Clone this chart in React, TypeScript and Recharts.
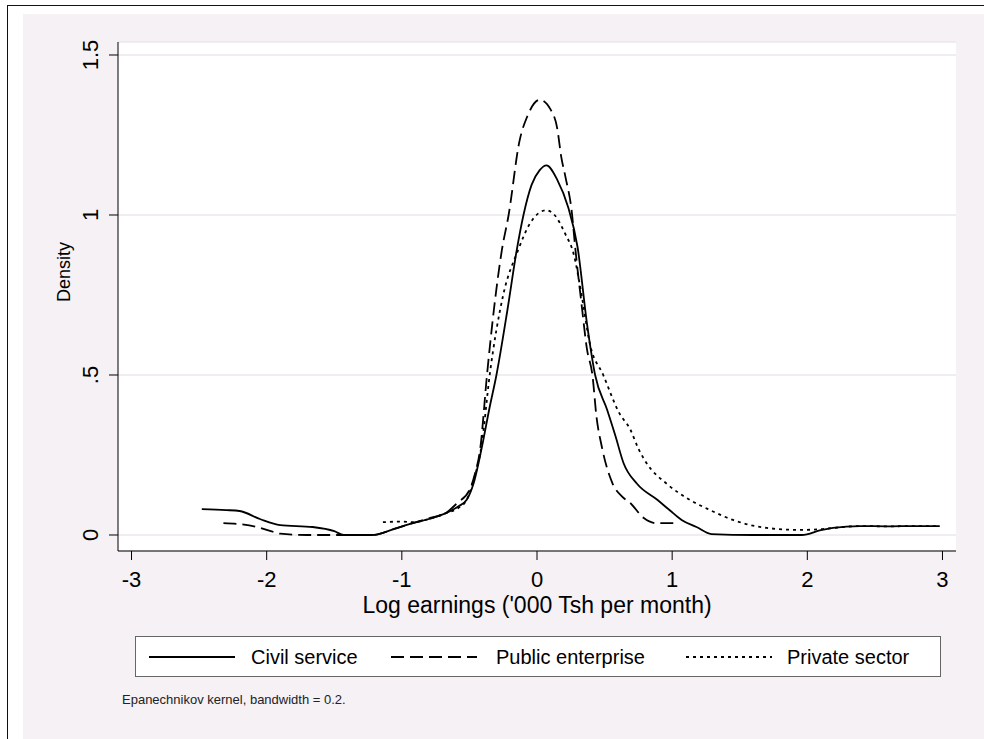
import React from 'react'
import { LineChart, Line, XAxis, YAxis, CartesianGrid, Legend, Label } from 'recharts'

// kernel density estimates
const civilX = [-2.48, -2.3, -2.2, -2.05, -1.9, -1.66, -1.5, -1.43, -1.22, -1.05, -0.92, -0.8, -0.67, -0.58, -0.52, -0.47, -0.41, -0.35, -0.3, -0.22, -0.15, -0.1, -0.04, 0.02, 0.07, 0.15, 0.23, 0.3, 0.37, 0.43, 0.52, 0.58, 0.64, 0.74, 0.89, 0.98, 1.07, 1.18, 1.29, 1.6, 1.96, 2.1, 2.19, 2.39, 2.6, 2.8, 2.98]
const civilY = [0.081, 0.078, 0.075, 0.05, 0.031, 0.025, 0.012, 0, 0, 0.02, 0.037, 0.05, 0.069, 0.09, 0.11, 0.16, 0.27, 0.4, 0.5, 0.7, 0.89, 1.0, 1.094, 1.14, 1.155, 1.11, 1.025, 0.9, 0.66, 0.5, 0.39, 0.31, 0.225, 0.16, 0.11, 0.078, 0.047, 0.025, 0.003, 0, 0, 0.015, 0.022, 0.028, 0.027, 0.028, 0.028]

const publicX = [-2.32, -2.2, -2.07, -1.97, -1.9, -1.7, -1.43, -1.22, -1.05, -0.92, -0.8, -0.67, -0.59, -0.5, -0.46, -0.42, -0.37, -0.32, -0.26, -0.21, -0.13, -0.07, 0.02, 0.1, 0.15, 0.18, 0.21, 0.26, 0.28, 0.33, 0.37, 0.41, 0.44, 0.48, 0.56, 0.63, 0.69, 0.79, 0.88, 1.03]
const publicY = [0.037, 0.034, 0.025, 0.012, 0.004, 0, 0, 0, 0.02, 0.037, 0.052, 0.07, 0.1, 0.14, 0.19, 0.27, 0.5, 0.7, 0.89, 1.0, 1.23, 1.31, 1.36, 1.33, 1.27, 1.18, 1.12, 1.0, 0.91, 0.72, 0.58, 0.5, 0.37, 0.275, 0.16, 0.12, 0.1, 0.053, 0.037, 0.037]

const privateX = [-1.14, -1.0, -0.92, -0.8, -0.67, -0.58, -0.52, -0.47, -0.41, -0.35, -0.25, -0.14, -0.05, 0.01, 0.07, 0.13, 0.21, 0.27, 0.33, 0.39, 0.49, 0.61, 0.69, 0.75, 0.81, 0.96, 1.13, 1.28, 1.45, 1.7, 1.95, 2.1, 2.19, 2.39, 2.6, 2.8, 2.98]
const privateY = [0.04, 0.042, 0.04, 0.05, 0.069, 0.085, 0.11, 0.17, 0.28, 0.5, 0.75, 0.89, 0.975, 1.005, 1.015, 1.0, 0.94, 0.88, 0.75, 0.6, 0.5, 0.38, 0.33, 0.27, 0.225, 0.16, 0.11, 0.078, 0.047, 0.022, 0.016, 0.018, 0.022, 0.028, 0.027, 0.028, 0.028]

const seriesNames = ['Civil service', 'Public enterprise', 'Private sector']
const xTicks = [-3, -2, -1, 0, 1, 2, 3]
const yTicks = [0, 0.5, 1, 1.5]
const yTickLabels = ['0', '.5', '1', '1.5']

const FONT = '"Liberation Sans", Arial, sans-serif'
const dashes = [undefined, '13 6', '3 4']

const toPoints = (xs: number[], ys: number[]) => xs.map((x, i) => ({ x, y: ys[i] }))
const series = [toPoints(civilX, civilY), toPoints(publicX, publicY), toPoints(privateX, privateY)]

const YTick = (props: any) => {
  const { y, payload } = props
  const bx = 98
  const idx = yTicks.indexOf(payload.value)
  return (
    <text x={bx} y={y} transform={`rotate(-90 ${bx} ${y})`} textAnchor="middle" fontSize={22} fontFamily={FONT} fill="#000">
      {yTickLabels[idx]}
    </text>
  )
}

const LegendBox = () => {
  const lineX = [13, 255, 550]
  const textX = [115, 360, 651]
  return (
    <div style={{ position: 'relative', width: 804, height: 39, background: '#fff', border: '1px solid #666', fontFamily: FONT }}>
      <svg width={804} height={39} style={{ position: 'absolute', left: 0, top: 0 }}>
        {seriesNames.map((name, i) => (
          <g key={name}>
            <line x1={lineX[i]} x2={lineX[i] + 86} y1={20} y2={20} stroke="#000" strokeWidth={1.8} strokeDasharray={dashes[i]} />
            <text x={textX[i]} y={27} fontSize={20} fill="#000" fontFamily={FONT}>{name}</text>
          </g>
        ))}
      </svg>
    </div>
  )
}

export default function App() {
  return (
    <div style={{ position: 'absolute', left: 0, top: 0, width: 984, height: 739, overflow: 'hidden', background: '#fff' }}>
      <div style={{ position: 'absolute', left: 23, top: 14, right: 0, bottom: 0, background: '#F5F1F5' }} />
      <div style={{ position: 'absolute', left: 7, top: 5, width: 1000, height: 760, borderTop: '1px solid #111', borderLeft: '1px solid #111' }} />
      <div style={{ position: 'absolute', left: 0, top: 0 }}>
        <LineChart width={984} height={739} margin={{ top: 42, right: 28, bottom: 158, left: 58 }}>
          <CartesianGrid vertical={false} fill="#fff" stroke="#ECE6EC" strokeWidth={1.5} />
          <XAxis
            type="number"
            dataKey="x"
            domain={[-3.1, 3.1]}
            ticks={xTicks}
            allowDataOverflow
            height={30}
            tickSize={9}
            tickMargin={11}
            stroke="#000"
            tick={{ fontSize: 22, fill: '#000', fontFamily: FONT }}
          >
            <Label value="Log earnings ('000 Tsh per month)" position="bottom" offset={16} style={{ fontSize: 23, fill: '#000', fontFamily: FONT }} />
          </XAxis>
          <YAxis
            type="number"
            dataKey="y"
            domain={[-0.05, 1.5406]}
            ticks={yTicks}
            allowDataOverflow
            width={60}
            tickSize={9}
            stroke="#000"
            tick={<YTick />}
          >
            <Label
              content={() => (
                <text x={70} y={272} transform="rotate(-90 70 272)" textAnchor="middle" fontSize={18} fontFamily={FONT} fill="#000">
                  Density
                </text>
              )}
            />
          </YAxis>
          {series.map((pts, i) => (
            <Line
              key={seriesNames[i]}
              data={pts}
              dataKey="y"
              name={seriesNames[i]}
              type="monotone"
              stroke="#000"
              strokeWidth={1.8}
              strokeDasharray={dashes[i]}
              dot={false}
              activeDot={false}
              isAnimationActive={false}
            />
          ))}
          <Legend
            layout="horizontal"
            verticalAlign="middle"
            align="center"
            wrapperStyle={{ position: 'absolute', left: 135, top: 636, width: 806, height: 41 }}
            content={() => <LegendBox />}
          />
        </LineChart>
      </div>
      <div style={{ position: 'absolute', left: 122, top: 692, fontSize: 13, fontFamily: FONT, color: '#222' }}>
        Epanechnikov kernel, bandwidth = 0.2.
      </div>
    </div>
  )
}
